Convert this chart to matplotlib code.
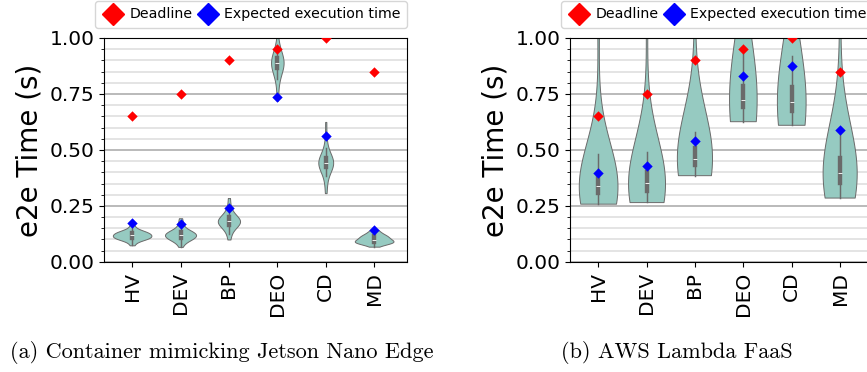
import numpy as np
import pandas as pd
import matplotlib
matplotlib.use("Agg")
import matplotlib.pyplot as plt
from matplotlib.lines import Line2D
from matplotlib.ticker import MultipleLocator
import seaborn as sns

# Applications on the x axis
apps = ["HV", "DEV", "BP", "DEO", "CD", "MD"]

# Deadline per application (same on both platforms)
deadline = [0.65, 0.75, 0.90, 0.95, 1.00, 0.85]

# Expected execution time per application
expected_edge = [0.173, 0.170, 0.242, 0.738, 0.563, 0.143]
expected_faas = [0.397, 0.429, 0.541, 0.830, 0.876, 0.588]

edge_hv = [0.074, 0.088, 0.096, 0.100, 0.102, 0.104, 0.106, 0.107, 0.109, 0.111,
           0.113, 0.115, 0.117, 0.119, 0.121, 0.123, 0.125, 0.127, 0.129, 0.131,
           0.133, 0.135, 0.138, 0.142, 0.150, 0.165]
edge_dev = [0.067, 0.082, 0.092, 0.098, 0.101, 0.104, 0.106, 0.108, 0.110, 0.112,
            0.114, 0.117, 0.120, 0.122, 0.124, 0.126, 0.128, 0.130, 0.132, 0.134,
            0.137, 0.141, 0.148, 0.160, 0.176, 0.195]
edge_bp = [0.100, 0.125, 0.142, 0.152, 0.159, 0.164, 0.168, 0.171, 0.174, 0.177,
           0.180, 0.183, 0.186, 0.189, 0.192, 0.196, 0.200, 0.206, 0.214, 0.226,
           0.248, 0.285]
edge_deo = [0.720, 0.775, 0.815, 0.842, 0.856, 0.865, 0.871, 0.876, 0.880, 0.884,
            0.887, 0.890, 0.894, 0.898, 0.902, 0.907, 0.913, 0.921, 0.933, 0.950,
            1.000, 1.150]
edge_cd = [0.307, 0.350, 0.385, 0.402, 0.413, 0.420, 0.426, 0.431, 0.435, 0.439,
           0.442, 0.445, 0.448, 0.452, 0.456, 0.461, 0.467, 0.475, 0.488, 0.510,
           0.550, 0.625]
edge_md = [0.068, 0.078, 0.082, 0.084, 0.086, 0.087, 0.088, 0.089, 0.090, 0.092,
           0.094, 0.097, 0.100, 0.103, 0.106, 0.109, 0.112, 0.114, 0.116, 0.119,
           0.123, 0.129, 0.136, 0.143]

# Measured e2e times (s) on AWS Lambda (includes a few cold starts)
faas_hv = [0.260, 0.263, 0.268, 0.275, 0.284, 0.293, 0.301, 0.308, 0.314, 0.319,
           0.324, 0.329, 0.333, 0.337, 0.341, 0.345, 0.349, 0.353, 0.358, 0.364,
           0.372, 0.383, 0.397, 0.415, 0.440, 0.480, 1.10, 1.45, 1.85]
faas_dev = [0.267, 0.270, 0.276, 0.284, 0.293, 0.302, 0.310, 0.317, 0.323, 0.329,
            0.334, 0.339, 0.343, 0.347, 0.351, 0.356, 0.361, 0.366, 0.372, 0.379,
            0.388, 0.400, 0.418, 0.445, 0.490, 0.560, 1.15, 1.50, 1.90]
faas_bp = [0.385, 0.388, 0.394, 0.402, 0.411, 0.419, 0.426, 0.432, 0.437, 0.442,
           0.447, 0.451, 0.455, 0.459, 0.463, 0.468, 0.473, 0.479, 0.486, 0.495,
           0.507, 0.522, 0.545, 0.580, 0.640, 1.25, 1.65, 2.10]
faas_deo = [0.626, 0.630, 0.638, 0.648, 0.660, 0.672, 0.683, 0.692, 0.698, 0.703,
            0.708, 0.712, 0.716, 0.720, 0.725, 0.731, 0.738, 0.746, 0.756, 0.768,
            0.783, 0.800, 0.830, 0.870, 0.930, 1.60, 2.20, 2.90]
faas_cd = [0.610, 0.614, 0.622, 0.633, 0.645, 0.656, 0.666, 0.674, 0.681, 0.688,
           0.694, 0.700, 0.705, 0.711, 0.717, 0.724, 0.731, 0.739, 0.748, 0.760,
           0.775, 0.795, 0.820, 0.860, 0.920, 1.55, 2.10, 2.80]
faas_md = [0.285, 0.289, 0.297, 0.308, 0.320, 0.332, 0.343, 0.352, 0.360, 0.367,
           0.374, 0.380, 0.386, 0.392, 0.398, 0.405, 0.412, 0.420, 0.428, 0.438,
           0.450, 0.466, 0.488, 0.520, 0.570, 0.650, 1.20, 1.60, 2.05]


def long_table(samples):
    rows = []
    for app, vals in zip(apps, samples):
        rows += [(app, v) for v in vals]
    return pd.DataFrame(rows, columns=["app", "time"])


edge_df = long_table([edge_hv, edge_dev, edge_bp, edge_deo, edge_cd, edge_md])
faas_df = long_table([faas_hv, faas_dev, faas_bp, faas_deo, faas_cd, faas_md])

fig = plt.figure(figsize=(8.67, 3.72), dpi=100)
ax_edge = fig.add_axes([0.120, 0.296, 0.3495, 0.602])
ax_faas = fig.add_axes([0.6575, 0.296, 0.3495, 0.602])


def draw(ax, df, expected):
    sns.violinplot(data=df, x="app", y="time", order=apps, color="#8dd3c7",
                   cut=0, inner="box", linewidth=0.7, ax=ax)
    pos = np.arange(len(apps))
    ax.scatter(pos, deadline, marker="D", s=28, color="red", zorder=4, linewidths=0)
    ax.scatter(pos, expected, marker="D", s=28, color="blue", zorder=4, linewidths=0)

    ax.set_ylim(0, 1.0)
    ax.set_xlim(-0.58, 5.68)
    ax.yaxis.set_major_locator(MultipleLocator(0.25))
    ax.yaxis.set_minor_locator(MultipleLocator(0.05))
    ax.grid(axis="y", which="major", color="#b4b4b4", linewidth=1.3)
    ax.grid(axis="y", which="minor", color="#e2e2e2", linewidth=1.3)
    ax.set_axisbelow(True)

    ax.set_xlabel("")
    ax.set_ylabel("e2e Time (s)", fontsize=20)
    ax.tick_params(axis="both", labelsize=14.5)
    ax.tick_params(axis="x", labelrotation=90)
    ax.set_yticks([0, 0.25, 0.5, 0.75, 1.0])
    ax.set_yticklabels(["0.00", "0.25", "0.50", "0.75", "1.00"])

    handles = [
        Line2D([], [], marker="D", color="red", linestyle="", markersize=11, label="Deadline"),
        Line2D([], [], marker="D", color="blue", linestyle="", markersize=11,
               label="Expected execution time"),
    ]
    ax.legend(handles=handles, loc="lower right", bbox_to_anchor=(1.0, 1.045),
              ncol=2, fontsize=10.2, handletextpad=0.35, columnspacing=0.3,
              handlelength=1.6, borderaxespad=0, borderpad=0.45)


draw(ax_edge, edge_df, expected_edge)
draw(ax_faas, faas_df, expected_faas)

fig.text(0.256, 0.052, "(a) Container mimicking Jetson Nano Edge",
         ha="center", va="center", fontsize=16, family="cmr10")
fig.text(0.781, 0.052, "(b) AWS Lambda FaaS",
         ha="center", va="center", fontsize=16, family="cmr10")

fig.savefig("out.png", dpi=100)
